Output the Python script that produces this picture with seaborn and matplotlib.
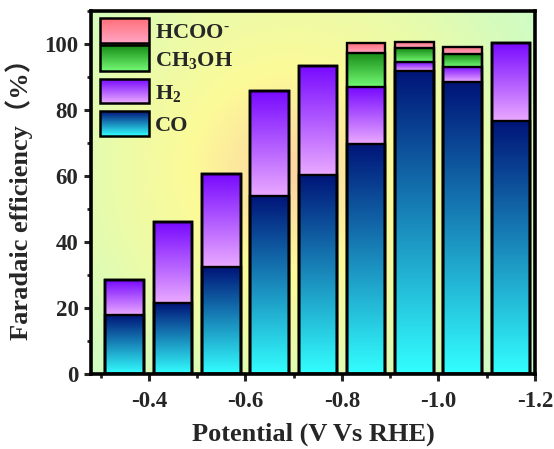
import numpy as np
import pandas as pd
import matplotlib
matplotlib.use("Agg")
import matplotlib.pyplot as plt
import seaborn as sns
from matplotlib.colors import LinearSegmentedColormap
from matplotlib.patches import Rectangle
from matplotlib.ticker import FormatStrFormatter, MultipleLocator

# Faradaic efficiency (%) of each product at each applied potential
potential = [-0.35, -0.45, -0.55, -0.65, -0.75, -0.85, -0.95, -1.05, -1.15]
fe_co = [17.8, 21.5, 32.4, 54.0, 60.4, 69.7, 91.9, 88.4, 76.8]
fe_h2 = [10.6, 24.5, 28.1, 31.7, 33.0, 17.2, 2.6, 4.7, 23.4]
fe_ch3oh = [0.0, 0.0, 0.0, 0.0, 0.0, 10.4, 4.2, 3.9, 0.0]
fe_hcoo = [0.0, 0.0, 0.0, 0.0, 0.0, 2.9, 2.0, 2.2, 0.0]

product_labels = ["CO", r"H$_2$", r"CH$_3$OH", r"HCOO$^{\text{-}}$"]
x_ticks = [-0.4, -0.6, -0.8, -1.0, -1.2]
y_ticks = [0, 20, 40, 60, 80, 100]

# (top colour, bottom colour) of each product's gradient
gradients = [
    ("#001478", "#33ffff"),   # CO
    ("#780aff", "#eaaaff"),   # H2
    ("#158a15", "#74fa74"),   # CH3OH
    ("#ff6e78", "#ffa6c4"),   # HCOO-
]

sns.set_style("ticks")
plt.rcParams["font.family"] = ["Liberation Serif", "Noto Sans CJK SC"]
plt.rcParams["font.weight"] = "bold"
plt.rcParams["mathtext.fontset"] = "custom"
plt.rcParams["mathtext.rm"] = "Liberation Serif:bold"
plt.rcParams["mathtext.it"] = "Liberation Serif:bold"
plt.rcParams["mathtext.bf"] = "Liberation Serif:bold"
plt.rcParams["axes.unicode_minus"] = False

W, H = 554, 449
AX_L, AX_R, AX_T, AX_B = 91, 535, 11, 374
fig = plt.figure(figsize=(W / 100, H / 100), dpi=100)
ax = fig.add_axes([AX_L / W, (H - AX_B) / H, (AX_R - AX_L) / W, (AX_B - AX_T) / H])

# radial background wash: peach centre, yellow ring, mint corners
bw, bh = AX_R - AX_L, AX_B - AX_T
yy, xx = np.mgrid[0:bh, 0:bw]
d = np.hypot(xx - 200, yy - 160)
stops = [0, 50, 100, 165, 250, 330]
cols = np.array([
    [253, 214, 162],
    [253, 230, 158],
    [252, 250, 152],
    [238, 251, 166],
    [214, 251, 188],
    [200, 255, 208],
]) / 255.0
bg = np.dstack([np.interp(d, stops, cols[:, c]) for c in range(3)])
ax.imshow(bg, extent=[0, 1, 0, 1], transform=ax.transAxes, aspect="auto",
          origin="upper", zorder=0, interpolation="bilinear")

# stacked segments: lower/upper bounds for each product
layers = [fe_co, fe_h2, fe_ch3oh, fe_hcoo]
lows, highs = [], []
acc = np.zeros(len(potential))
for vals in layers:
    lows.append(acc.copy())
    acc = acc + np.array(vals)
    highs.append(acc.copy())

grad = np.linspace(0, 1, 256).reshape(-1, 1)
cmaps = [LinearSegmentedColormap.from_list(f"g{k}", [b, t]) for k, (t, b) in enumerate(gradients)]

# draw the cumulative outlines back-to-front with seaborn, then fill each segment
for k in range(len(layers) - 1, -1, -1):
    n_before = len(ax.patches)
    df = pd.DataFrame({"potential": potential, "fe": highs[k]})
    sns.barplot(data=df, x="potential", y="fe", native_scale=True, width=0.8,
                color="black", fill=False, linewidth=1.7, errorbar=None,
                ax=ax, zorder=3)
    for patch in ax.patches[n_before:]:
        cx = patch.get_x() + patch.get_width() / 2
        i = int(np.argmin(np.abs(np.array(potential) - cx)))
        lo, hi = lows[k][i], highs[k][i]
        if hi - lo <= 0:
            continue
        ax.imshow(grad, cmap=cmaps[k], origin="lower", aspect="auto",
                  extent=[patch.get_x(), patch.get_x() + patch.get_width(), lo, hi],
                  zorder=2, interpolation="bilinear")

ax.set_xlim(-0.28, -1.2)
ax.set_ylim(0, 110)
ax.set_xticks(x_ticks)
ax.xaxis.set_major_formatter(FormatStrFormatter("%.1f"))
ax.xaxis.set_minor_locator(MultipleLocator(0.1))
ax.set_yticks(y_ticks)
ax.yaxis.set_minor_locator(MultipleLocator(10))
ax.tick_params(axis="both", which="major", direction="out", length=5, width=2.2,
               labelsize=16.5, pad=4)
ax.tick_params(axis="x", which="major", pad=7)
ax.tick_params(axis="both", which="minor", direction="out", length=3, width=2.0)
for s in ax.spines.values():
    s.set_linewidth(2.6)
    s.set_color("black")
    s.set_zorder(4)

ax.set_xlabel("Potential (V Vs RHE)", fontsize=19, fontweight="bold", labelpad=8)
ax.set_ylabel("Faradaic efficiency（%）", fontsize=19, fontweight="bold", labelpad=8)

# legend with gradient swatches, top entry first
def to_ax(px, py):
    return (px - AX_L) / bw, (AX_B - py) / bh

entries = [(3, 18, 43, 38), (2, 45, 71, 66), (1, 79, 103, 99), (0, 111, 136, 131)]
for k, top, bot, base in entries:
    x0, y0 = to_ax(100, bot)
    x1, y1 = to_ax(149, top)
    ax.imshow(grad, cmap=cmaps[k], origin="lower", aspect="auto",
              extent=[x0, x1, y0, y1], transform=ax.transAxes, zorder=5)
    ax.add_patch(Rectangle((x0, y0), x1 - x0, y1 - y0, transform=ax.transAxes,
                           facecolor="none", edgecolor="black", linewidth=1.8, zorder=6))
    tx, ty = to_ax(155, base)
    ax.text(tx, ty, product_labels[k], transform=ax.transAxes, fontsize=16,
            fontweight="bold", va="baseline", ha="left", zorder=6)

ax.set_xlim(-0.28, -1.2)
ax.set_ylim(0, 110)
fig.savefig("out.png", dpi=100)
